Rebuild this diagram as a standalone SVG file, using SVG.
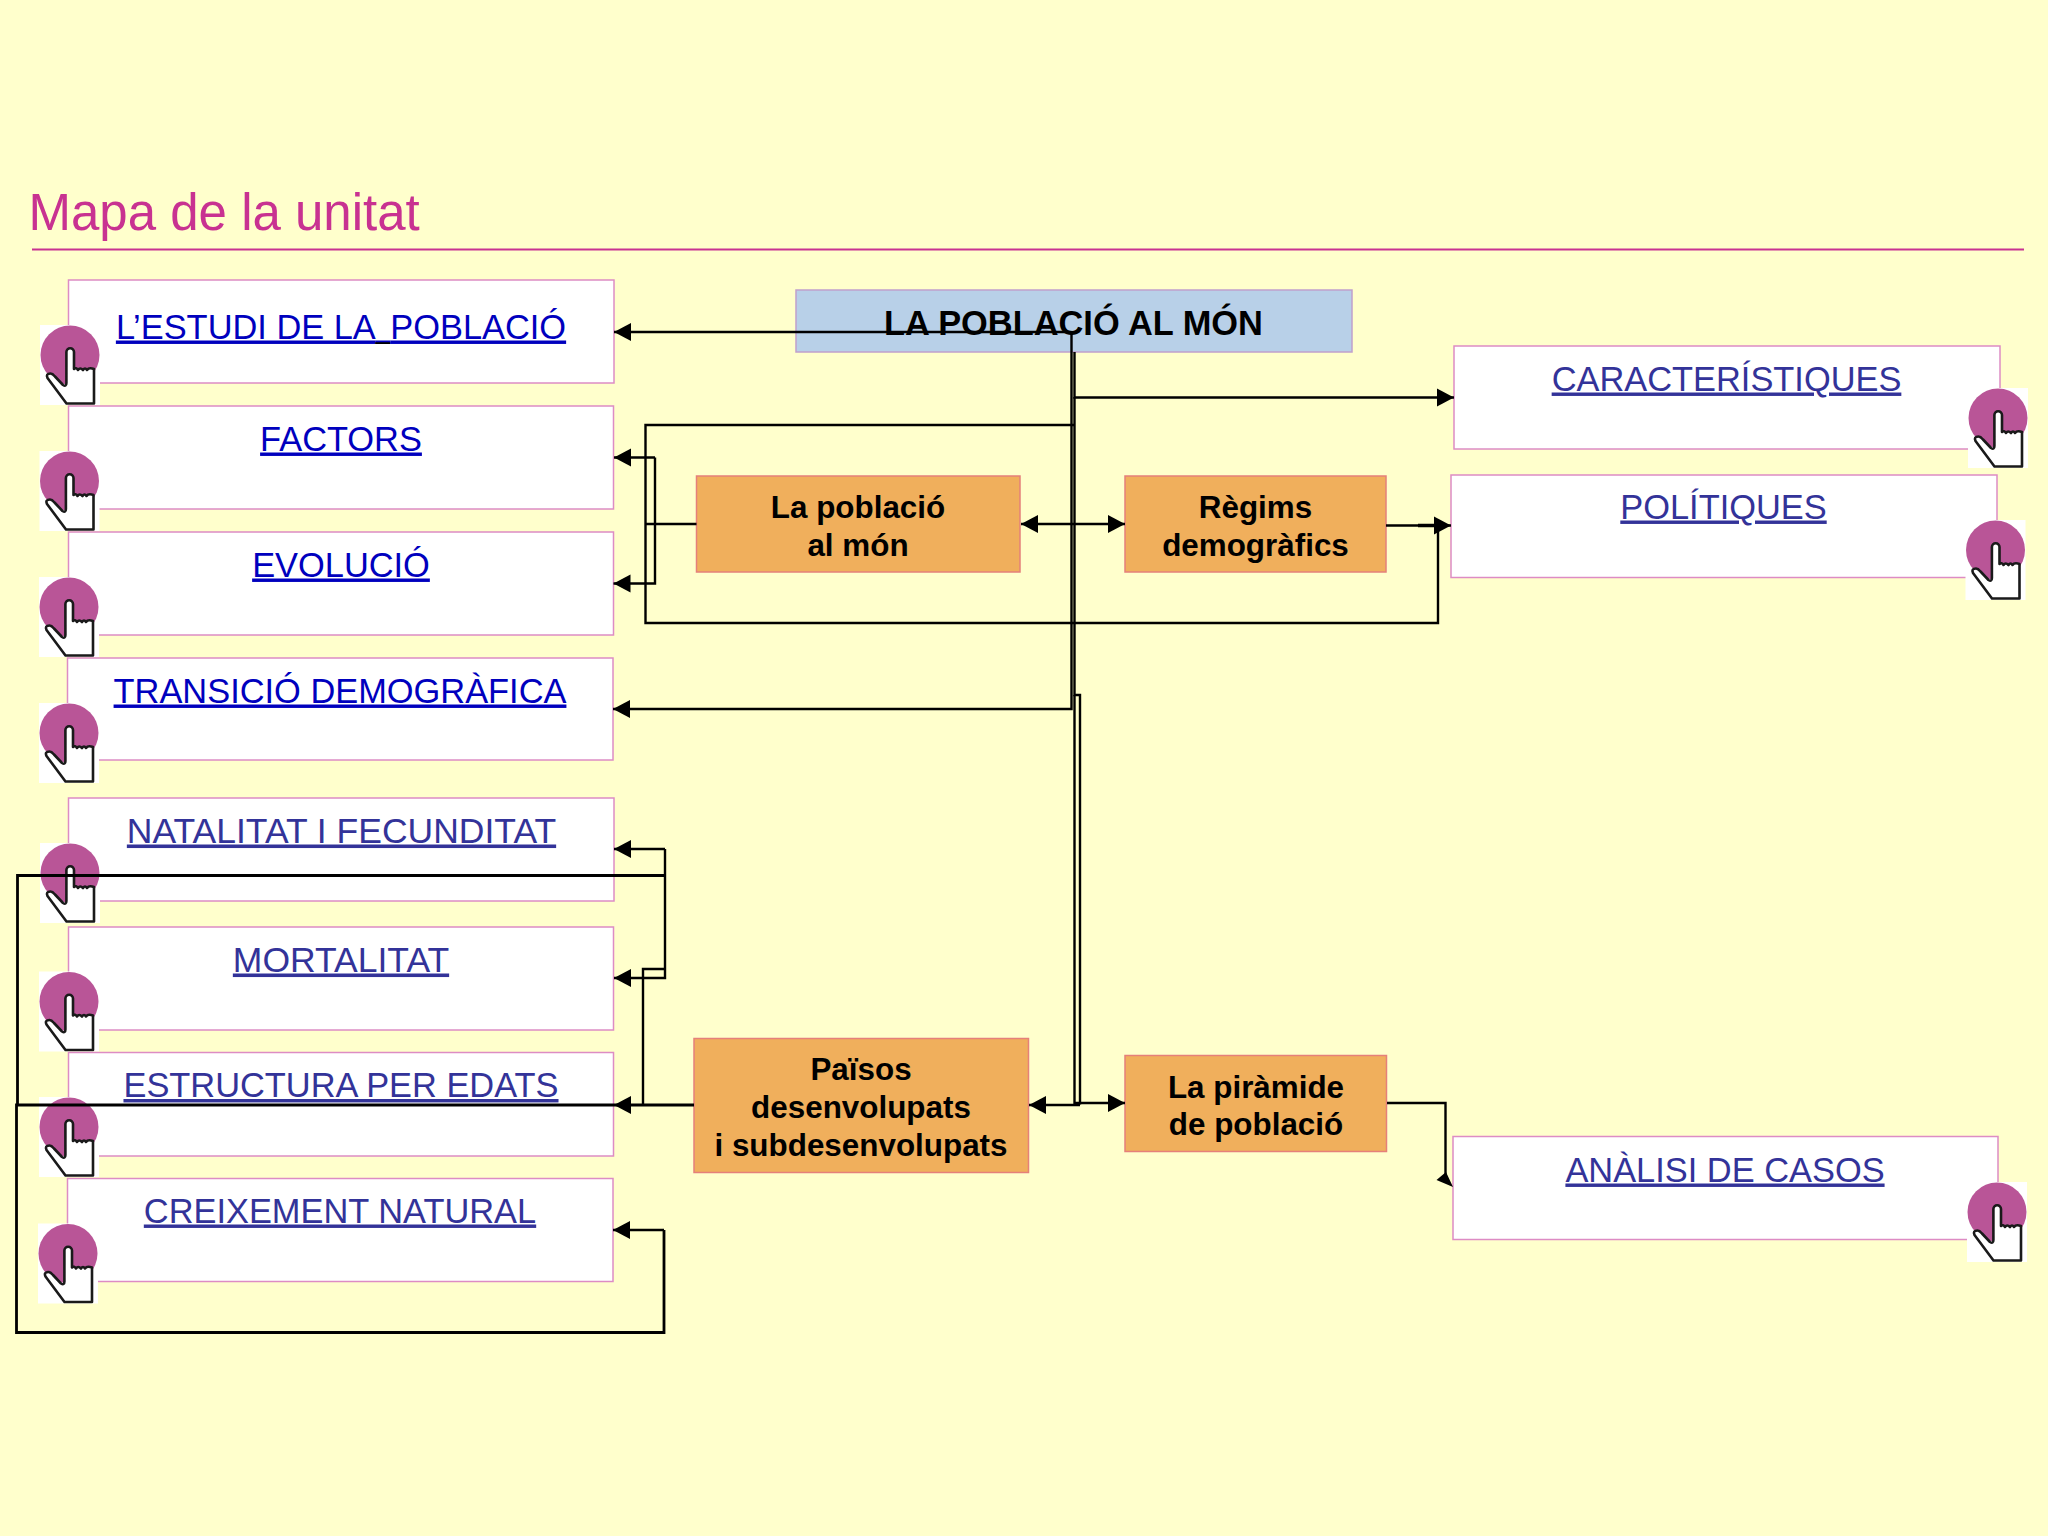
<svg xmlns="http://www.w3.org/2000/svg" width="2048" height="1536" viewBox="0 0 2048 1536">
<style>
.box{fill:#fff;stroke:#DD8CC4;stroke-width:1.5}
.org{fill:#F0AF5C;stroke:#E5807A;stroke-width:1.5}
.link{font-family:"Liberation Sans",Arial,sans-serif;font-size:34.4px;text-anchor:middle;text-decoration:underline}
.wide{font-size:35.5px}
.a{fill:#0000BE}
.b{fill:#333399}
.bold{font-family:"Liberation Sans",Arial,sans-serif;font-size:31.4px;font-weight:bold;text-anchor:middle;fill:#000}
.c{fill:none;stroke:#000;stroke-width:2.4}
.end{marker-end:url(#arr)}
.start{marker-start:url(#arrs)}
</style>
<defs>
<marker id="arr" markerUnits="userSpaceOnUse" markerWidth="18" markerHeight="20" refX="17" refY="10" orient="auto"><path d="M0,1 L17,10 L0,19 Z" fill="#000"/></marker>
<marker id="arrs" markerUnits="userSpaceOnUse" markerWidth="18" markerHeight="20" refX="0" refY="10" orient="auto"><path d="M17,1 L0,10 L17,19 Z" fill="#000"/></marker>
<g id="hand">
<rect x="-30" y="-30" width="60" height="80" fill="#fff"/>
<circle cx="0" cy="0" r="29.5" fill="#B95597"/>
<path d="M-3.6,-3 A3.8,3.8 0 0 1 4,-3 V14 Q6,12 8,15 Q10,12 13,15 Q15,12 17,15 Q19,12 24,14 V48.5 H-3.5 L-22.5,23 Q-24.5,18.5 -19.5,18.5 Q-17.5,18.5 -15,21.5 L-7,30 Q-3.6,32 -3.6,28 Z" fill="#fff" stroke="#1a1a1a" stroke-width="2.6" stroke-linejoin="round"/>
</g>
</defs>
<rect id="background" width="2048" height="1536" fill="#FFFFCC"/>
<g id="title">
<text x="28.500" y="230" font-family="'Liberation Sans',Arial,sans-serif" font-size="51" fill="#C83291">Mapa de la unitat</text>
<line x1="32" y1="249.5" x2="2024" y2="249.5" stroke="#C83291" stroke-width="2"/>
</g>
<g id="n-root"><rect x="796" y="290" width="556" height="62" fill="#B8D0E8" stroke="#C0A0CC" stroke-width="1.5"/><text class="bold" x="1073.5" y="335" style="font-size:34.4px">LA POBLACIÓ AL MÓN</text></g>
<g id="n-estudi"><rect class="box" x="68.500" y="280" width="545.500" height="103"/><text class="link a" x="341" y="338.500">L’ESTUDI DE LA<tspan fill="#000" font-size="26">_</tspan>POBLACIÓ</text><use href="#hand" x="70" y="355"/></g>
<g id="n-factors"><rect class="box" x="68.500" y="406" width="545" height="103"/><text class="link a" x="341" y="450.500">FACTORS</text><use href="#hand" x="69.500" y="481"/></g>
<g id="n-evolucio"><rect class="box" x="68.500" y="532" width="545" height="103"/><text class="link a" x="341" y="576.500">EVOLUCIÓ</text><use href="#hand" x="69" y="607"/></g>
<g id="n-transicio"><rect class="box" x="67.500" y="658" width="545.500" height="102"/><text class="link a" x="340" y="702.500">TRANSICIÓ DEMOGRÀFICA</text><use href="#hand" x="69" y="733"/></g>
<g id="n-natalitat"><rect class="box" x="68.500" y="798" width="545.500" height="103"/><text class="link b wide" x="341.500" y="842.500">NATALITAT I FECUNDITAT</text><use href="#hand" x="70" y="873"/></g>
<g id="n-mortalitat"><rect class="box" x="68.500" y="927" width="545" height="103"/><text class="link b wide" x="341" y="971.500">MORTALITAT</text><use href="#hand" x="69" y="1001.500"/></g>
<g id="n-estructura"><rect class="box" x="68.500" y="1052.500" width="545" height="103.500"/><text class="link b" x="341" y="1097">ESTRUCTURA PER EDATS</text><use href="#hand" x="69" y="1127"/></g>
<g id="n-creixement"><rect class="box" x="67.500" y="1178.500" width="545.500" height="103"/><text class="link b" x="340" y="1222.500">CREIXEMENT NATURAL</text><use href="#hand" x="68" y="1253.500"/></g>
<g id="n-caracteristiques"><rect class="box" x="1454" y="346" width="546" height="103"/><text class="link b" x="1726.500" y="390.500">CARACTERÍSTIQUES</text><use href="#hand" x="1998" y="418"/></g>
<g id="n-politiques"><rect class="box" x="1451" y="475" width="546" height="102.500"/><text class="link b" x="1723.500" y="518.500">POLÍTIQUES</text><use href="#hand" x="1995.500" y="550"/></g>
<g id="n-analisi"><rect class="box" x="1453" y="1136.500" width="545" height="103"/><text class="link b" x="1725" y="1181.500">ANÀLISI DE CASOS</text><use href="#hand" x="1997" y="1212"/></g>
<g id="n-poblacio"><rect class="org" x="696.500" y="476" width="323.500" height="96"/><text class="bold" x="858" y="518">La població</text><text class="bold" x="858" y="556">al món</text></g>
<g id="n-regims"><rect class="org" x="1125" y="476" width="261" height="96"/><text class="bold" x="1255.500" y="518">Règims</text><text class="bold" x="1255.500" y="556">demogràfics</text></g>
<g id="n-paisos"><rect class="org" x="694" y="1038.500" width="334.500" height="134"/><text class="bold" x="861" y="1080">Països</text><text class="bold" x="861" y="1118">desenvolupats</text><text class="bold" x="861" y="1156">i subdesenvolupats</text></g>
<g id="n-piramide"><rect class="org" x="1125" y="1055.500" width="261.500" height="96"/><text class="bold" x="1256" y="1098">La piràmide</text><text class="bold" x="1256" y="1135">de població</text></g>
<g id="connectors">
<path class="c end" d="M1071.500,332 H614"/>
<path class="c end" d="M1071.500,332 V709 H613"/>
<path class="c end" d="M1074.500,352 V397.500 H1454"/>
<path class="c" d="M1074.500,397 V695 H1080 V1104.500"/>
<path class="c" d="M1074.500,695 V1104.500"/>
<path class="c end" d="M1074.500,1103 H1125"/>
<path class="c end" d="M1080,1105 H1029"/>
<path class="c" d="M1074.500,425 H645.500 V623 H1438 V526"/>
<path class="c" d="M696.500,524 H645"/>
<path class="c end" d="M655,457.500 H614"/>
<path class="c end" d="M655,457.500 V583.500 H613.500"/>
<path class="c start end" d="M1021,524 H1125"/>
<path class="c end" d="M1386,525.500 H1451"/>
<path class="c" d="M1418,525.500 H1440" style="stroke-width:3.5"/>
<path class="c end" d="M665,849 H614"/>
<path class="c end" d="M665,849 V978 H614"/>
<path class="c" d="M665,875.500 H17.500 V1105" style="stroke-width:2.8"/>
<path class="c" d="M643,1104 V969 H665"/>
<path class="c end" d="M694,1105 H614" style="stroke-width:2.8"/>
<path class="c" d="M614,1105 H16.500 V1332.500 H664 V1230" style="stroke-width:2.8"/>
<path class="c end" d="M664,1230 H613"/>
<path class="c" d="M1387,1103 H1445.500 V1176"/>
<polygon points="1436.500,1180 1446,1172 1453,1187" fill="#000"/>
</g>
</svg>
